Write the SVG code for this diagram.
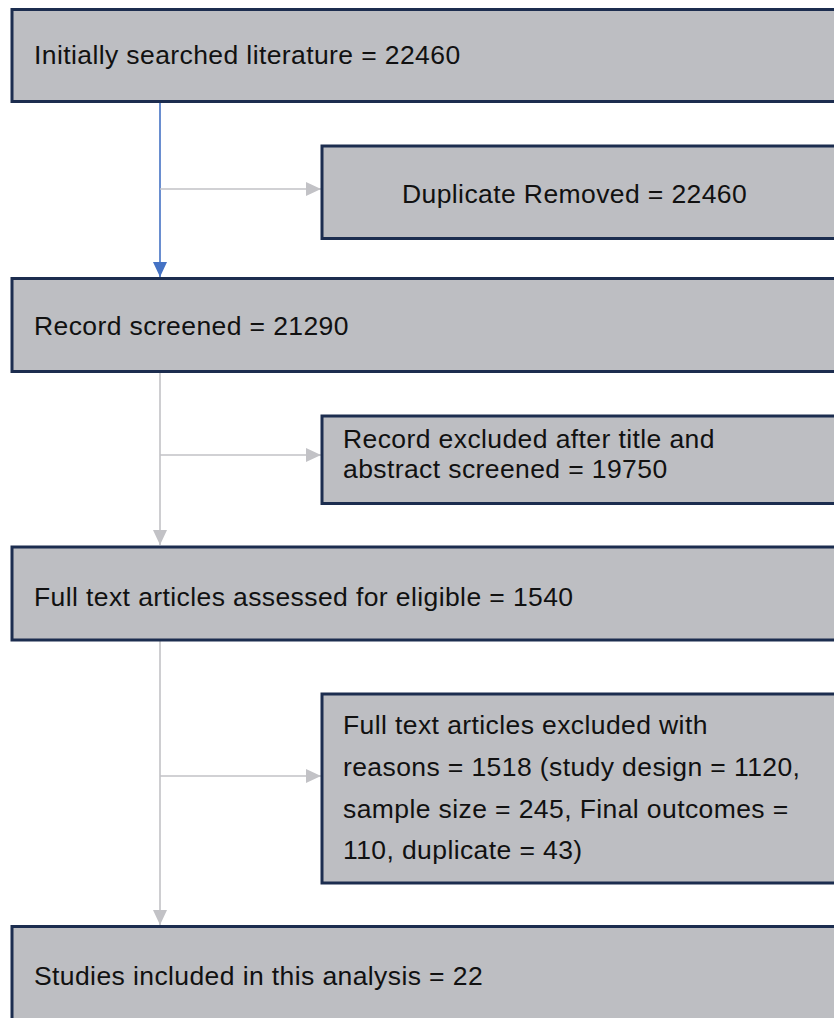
<svg xmlns="http://www.w3.org/2000/svg" width="834" height="1018" viewBox="0 0 834 1018">
<style>
.box{fill:#bdbec2;stroke:#1c2d4f;stroke-width:3}
.t{font-family:"Liberation Sans",Arial,sans-serif;font-size:26.5px;letter-spacing:0.4px;fill:#111}
.g{stroke:#c2c2c6;stroke-width:1.6;fill:none}
.b{stroke:#4472c4;stroke-width:1.6;fill:none}
</style>
<defs>
<marker id="ag" viewBox="0 0 15 14" refX="15" refY="7" markerWidth="15" markerHeight="14" markerUnits="userSpaceOnUse" orient="auto"><path d="M0,0L15,7L0,14Z" fill="#c2c2c6"/></marker>
<marker id="ab" viewBox="0 0 15 14" refX="15" refY="7" markerWidth="15" markerHeight="14" markerUnits="userSpaceOnUse" orient="auto"><path d="M0,0L15,7L0,14Z" fill="#4472c4"/></marker>
</defs>
<rect width="834" height="1018" fill="#fff"/>
<g id="connectors">
<path class="b" d="M160,102V277" marker-end="url(#ab)"/>
<path class="g" d="M160,189H321" marker-end="url(#ag)"/>
<path class="g" d="M160,372V545" marker-end="url(#ag)"/>
<path class="g" d="M160,455H321" marker-end="url(#ag)"/>
<path class="g" d="M160,641V925" marker-end="url(#ag)"/>
<path class="g" d="M160,776H321" marker-end="url(#ag)"/>
</g>
<g id="n1"><rect class="box" x="12" y="9.5" width="840" height="92"/><text class="t" x="34" y="64">Initially searched literature = 22460</text></g>
<g id="n2"><rect class="box" x="322" y="146" width="530" height="92.5"/><text class="t" x="402" y="203">Duplicate Removed = 22460</text></g>
<g id="n3"><rect class="box" x="12" y="278.5" width="840" height="93"/><text class="t" x="34" y="335">Record screened = 21290</text></g>
<g id="n4"><rect class="box" x="322" y="416" width="530" height="87.5"/><text class="t" x="343" y="448">Record excluded after title and</text><text class="t" x="343" y="478">abstract screened = 19750</text></g>
<g id="n5"><rect class="box" x="12" y="547" width="840" height="93"/><text class="t" x="34" y="606">Full text articles assessed for eligible = 1540</text></g>
<g id="n6"><rect class="box" x="322" y="694" width="530" height="189"/><text class="t" x="343" y="734">Full text articles excluded with</text><text class="t" x="343" y="776">reasons = 1518 (study design = 1120,</text><text class="t" x="343" y="818">sample size = 245, Final outcomes =</text><text class="t" x="343" y="859">110, duplicate = 43)</text></g>
<g id="n7"><rect class="box" x="12" y="926.5" width="840" height="100"/><text class="t" x="34" y="985">Studies included in this analysis = 22</text></g>
</svg>
